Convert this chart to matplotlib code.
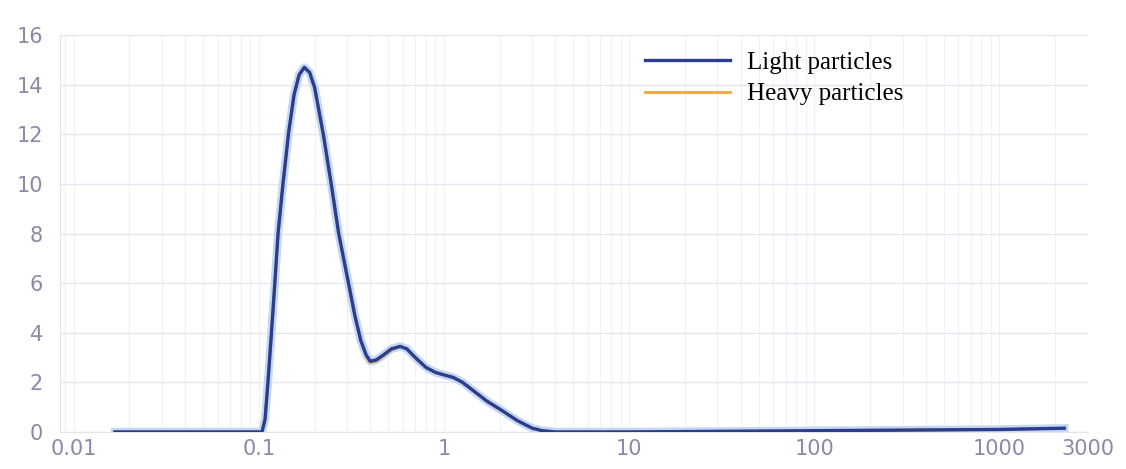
import numpy as np
import matplotlib
matplotlib.use('Agg')
import matplotlib.pyplot as plt

# particle size (log axis) and distribution values
size = [0.0167, 0.05, 0.104, 0.108, 0.112, 0.117, 0.122, 0.127, 0.135, 0.145,
        0.155, 0.165, 0.176, 0.188, 0.20, 0.223, 0.246, 0.27, 0.305, 0.33,
        0.355, 0.38, 0.40, 0.43, 0.47, 0.52, 0.58, 0.63, 0.70, 0.80,
        0.90, 1.0, 1.12, 1.26, 1.45, 1.7, 2.07, 2.5, 3.0, 3.4, 4.0, 10, 100, 1000, 2240]
light = [0.0, 0.0, 0.0, 0.5, 2.0, 4.0, 6.0, 8.0, 10.0, 12.1,
         13.6, 14.4, 14.7, 14.5, 13.9, 12.0, 10.0, 8.0, 6.0, 4.7,
         3.7, 3.1, 2.85, 2.9, 3.1, 3.35, 3.45, 3.35, 3.0, 2.6,
         2.4, 2.3, 2.2, 2.0, 1.65, 1.25, 0.85, 0.45, 0.15, 0.05, 0.0, 0.0, 0.05, 0.1, 0.15]
heavy = [0.0, 0.0, 0.0, 0.5, 2.0, 4.0, 6.0, 8.0, 10.0, 12.1,
         13.6, 14.4, 14.7, 14.5, 13.9, 12.0, 10.0, 8.0, 6.0, 4.7,
         3.7, 3.05, 2.8, 2.85, 3.05, 3.3, 3.45, 3.35, 3.0, 2.6,
         2.4, 2.3, 2.2, 2.0, 1.65, 1.25, 0.85, 0.45, 0.15, 0.05, 0.0, 0.0, 0.05, 0.1, 0.15]

xticks = [0.01, 0.1, 1, 10, 100, 1000, 3000]
xlabels = ['0.01', '0.1', '1', '10', '100', '1000', '3000']
yticks = [0, 2, 4, 6, 8, 10, 12, 14, 16]

label_col = '#8c88a8'
grid_col = '#e6e6f0'

fig = plt.figure(figsize=(11.26, 4.69), dpi=100)
ax = fig.add_axes([0.053, 0.079, 0.913, 0.846])

ax.set_xscale('log')
ax.set_xlim(0.0084, 3000)
ax.set_ylim(0, 16)

# faint grid like the scanned original
ax.grid(True, which='major', axis='y', color=grid_col, lw=1.0)
ax.grid(True, which='both', axis='x', color=grid_col, lw=0.8, alpha=0.6)

# soft glow under the curve, then the two series
ax.plot(size, light, color='#c2d8f5', lw=6, solid_joinstyle='round', zorder=2)
ax.plot(size, heavy, color='#f0a535', lw=2.0, label='Heavy particles', zorder=3)
ax.plot(size, light, color='#2c3c8e', lw=2.4, solid_joinstyle='round', label='Light particles', zorder=4)

ax.set_xticks(xticks)
ax.set_xticklabels(xlabels)
ax.xaxis.set_minor_formatter(matplotlib.ticker.NullFormatter())
ax.set_yticks(yticks)
ax.tick_params(axis='both', which='both', length=0, labelsize=15, labelcolor=label_col)
ax.tick_params(axis='x', pad=5)
ax.tick_params(axis='y', pad=12)

for s in ['top', 'right']:
    ax.spines[s].set_visible(False)
for s in ['left', 'bottom']:
    ax.spines[s].set_color('#e4e4ee')

handles, labels = ax.get_legend_handles_labels()
leg = ax.legend(handles[::-1], labels[::-1], loc='upper left', bbox_to_anchor=(0.547, 1.015),
                frameon=False, handlelength=3.4, handletextpad=0.7, labelspacing=0.35,
                prop={'family': 'Liberation Serif', 'size': 18})

fig.savefig('out.png', dpi=100, facecolor='white')
